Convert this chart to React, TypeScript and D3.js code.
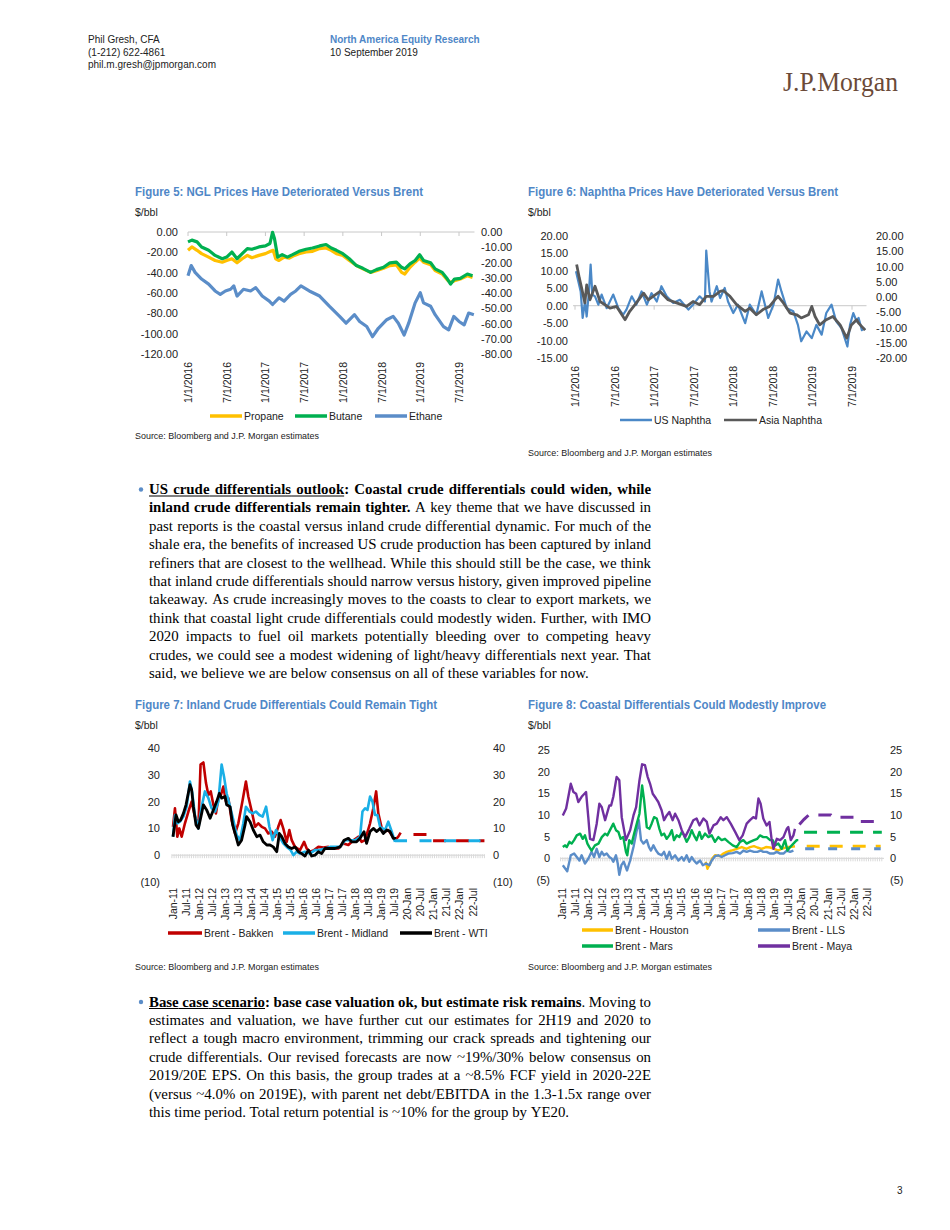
import React, { useMemo } from "react";
import * as d3 from "d3";

type P = [number, number];

// ---------------- Figure 5: NGL prices vs Brent ($/bbl) — x = months since 1 Jan 2016 ----------------
const propane: P[] = [[0,-18],[0.6,-14.7],[1.4,-18],[2.1,-21.3],[3.2,-24.7],[4.2,-28],[5.3,-29.7],[6,-28],[6.8,-26.3],[7.6,-30.3],[8.4,-26.3],[9.2,-23],[9.9,-25.3],[11,-23],[12,-21.3],[12.8,-19],[13.2,-18],[13.6,-26.3],[14.1,-28],[14.9,-24.7],[15.7,-25.7],[16.5,-23],[17.2,-21.3],[18.3,-19.7],[19.3,-19],[20.4,-16.3],[21.4,-15.7],[22.2,-18],[23,-21.3],[24,-23],[25,-28],[26.1,-33],[27.1,-36.3],[28.3,-39.7],[29.2,-38],[30.3,-35.7],[31.3,-33],[32.3,-32.3],[33.1,-39.7],[33.6,-41.3],[34.4,-34.7],[35.2,-29.7],[35.9,-25.7],[36.5,-29.7],[37.6,-32.3],[38.3,-38],[39.4,-41.3],[40.2,-47.3],[40.7,-49.7],[41.3,-48],[42.2,-46.3],[43.3,-43],[44.1,-44.7]];
const butane: P[] = [[0,-9.7],[0.6,-8],[1.4,-9.7],[2.1,-14.7],[3.2,-18],[4.2,-23],[5.3,-26.3],[6,-24.7],[6.8,-19.7],[7.6,-26.3],[8.4,-21.3],[9.2,-16.3],[9.9,-17],[11,-14.7],[12,-13.7],[12.7,-11.3],[13.1,-0.3],[13.4,-6.3],[13.9,-24.7],[14.6,-22.3],[15.4,-24.7],[16.2,-22.3],[17.2,-19],[18.3,-17],[19.3,-15.7],[20.4,-13.7],[21.4,-12.3],[22.2,-15.7],[23,-18],[24,-21.3],[25,-26.3],[26.1,-33],[27.1,-35.7],[28.3,-39.7],[29.2,-37],[30.3,-34.7],[31.3,-30.3],[32.3,-29.7],[33.1,-34.7],[33.6,-36.3],[34.4,-31.3],[35.2,-28],[35.9,-22.3],[36.5,-28],[37.6,-30.3],[38.3,-36.3],[39.4,-39.7],[40.2,-46.3],[40.7,-51.3],[41.3,-46.3],[42.2,-45.7],[43.3,-41.3],[44.1,-43]];
const ethane: P[] = [[0,-43],[0.5,-33],[1.1,-39.7],[2.1,-46.3],[3.2,-51.3],[4.2,-58],[5,-61.3],[5.8,-58],[6.6,-56.3],[7.1,-53],[7.6,-63],[8.6,-56.3],[9.7,-58],[10.5,-54.7],[11.5,-63],[12.6,-68],[13.1,-71.3],[14.1,-64.7],[14.9,-68],[15.9,-61.3],[16.7,-58],[17.5,-53],[18.8,-58],[20.4,-63],[21.9,-73],[23.5,-83],[24.5,-89.7],[25.8,-81.3],[26.6,-88],[27.7,-93],[28.6,-103],[29.5,-94.7],[30.8,-86.3],[31.8,-83],[32.6,-89.7],[33.5,-101.3],[34.2,-89.7],[35.2,-69.7],[36,-59.7],[36.5,-69.7],[37.6,-73],[38.3,-81.3],[39.6,-93],[40.4,-96.3],[41.2,-83],[42,-88],[42.8,-91.3],[43.5,-79.7],[44.3,-81.3]];

// ---------------- Figure 6: Naphtha vs Brent ($/bbl) — x = months since 1 Jan 2016 ----------------
const usNaphtha: P[] = [[0.15,9.9],[0.5,7],[0.86,4.1],[1.16,-3.5],[1.52,1.2],[1.77,-3.1],[2.12,4.1],[2.37,11.8],[2.63,3.2],[3.03,2.7],[3.54,0.3],[4.04,3.2],[4.8,-0.7],[5.8,3.2],[6.57,-0.7],[7.3,-2.6],[7.8,-1.1],[8.6,2.7],[9.3,0.3],[10.1,4.1],[10.9,0.3],[11.6,3.6],[12.4,1.2],[13.1,5.6],[13.9,2.7],[14.9,0.8],[15.9,1.7],[17.2,-1.1],[17.9,0.3],[18.9,2.7],[19.7,1.2],[19.9,15.8],[20.4,4.1],[20.7,1.2],[21.5,5.6],[22,2.2],[22.7,5.1],[23.2,1.2],[24,-2.1],[24.7,0.3],[25.8,-5],[26.5,0.3],[27.5,-2.6],[28.3,4.1],[29.3,-3.5],[30.1,0.3],[30.8,7.5],[31.3,4.1],[32.1,-0.7],[33.1,-1.6],[33.8,-5.5],[34.3,-10.2],[35.1,-7.4],[35.9,-9.3],[36.6,-5.5],[37.4,-8.3],[38.1,-2.1],[38.9,0.3],[39.6,-4.5],[40.4,-6.4],[41.3,-11.7],[41.7,-5.5],[42.2,-2.1],[42.7,-4.5],[43,-3.5],[43.5,-7],[44,-6.5]];
const asiaNaphtha: P[] = [[0.25,11.8],[0.66,7.9],[1,5.1],[1.5,0.8],[1.77,6],[2.27,1.7],[3.03,5.6],[3.8,1.2],[5.3,-0.7],[6.3,-0.2],[7.6,-4],[8.3,-1.6],[9.1,0.3],[10.4,3.6],[11.1,1.7],[12.9,4.1],[14.1,1.7],[15.4,0.8],[16.9,-0.2],[17.9,1.2],[18.9,0.3],[19.9,2.7],[21,2.7],[22,4.1],[22.5,4.3],[23.5,2.7],[24.5,0.3],[25.8,-1.6],[26.5,-0.7],[27.5,-2.6],[28.5,-1.1],[29.5,-0.2],[30.3,1.7],[30.8,2.7],[31.6,0.8],[32.6,-2.1],[33.6,-2.6],[34.3,-3.5],[35.4,-2.6],[35.9,-0.2],[36.4,-3.1],[37.1,-5.5],[38.1,-4],[39.1,-3.1],[40.2,-5.5],[41.2,-9.3],[41.9,-5.5],[42.7,-4],[43,-5],[43.5,-6],[44,-7]];

const dateTicks56 = ["1/1/2016","7/1/2016","1/1/2017","7/1/2017","1/1/2018","7/1/2018","1/1/2019","7/1/2019"];
const fig5Left = [0,-20,-40,-60,-80,-100,-120];
const fig5Right = [0,-10,-20,-30,-40,-50,-60,-70,-80];
const fig6Left = [20,15,10,5,0,-5,-10,-15];
const fig6Right = [20,15,10,5,0,-5,-10,-15,-20];

// ---------------- Figure 7: inland differentials — x = months since Jan-11 ----------------
const bakken: P[] = [[0,10.6],[0.9,17.5],[2,6.9],[2.9,10],[4,6.9],[5.5,11.9],[7.1,16.3],[8.6,20],[10.1,14.4],[11.7,10.6],[12.7,33.8],[14,34.6],[15.2,26.9],[16.3,22.5],[17.4,23.8],[18.6,18.8],[19.8,15.6],[20.9,21.3],[22.1,22.5],[23.2,25.6],[24.4,20],[25.5,21.3],[27,13.1],[28.6,8.1],[30.1,11.9],[32.1,20.6],[33.6,27.5],[34.7,21.9],[36.3,16.3],[37.8,10.6],[39.3,11.9],[40.9,10.6],[42.4,10],[43.9,8.1],[45.5,8.8],[47,6.9],[48.5,10.6],[49.6,13.1],[50.8,10],[52.4,5],[53.6,9.4],[54.7,5.6],[56.2,3.1],[58.5,1.9],[60.4,5],[61.6,2.5],[63.1,1.3],[65,1.9],[67,3.1],[69.3,2.9],[71.6,3.1],[73.9,2.5],[76.2,2.5],[78.5,4.4],[80.8,3.8],[83.1,5.6],[85.4,6.9],[86.9,5],[88.5,5.6],[90.8,11.9],[92.3,17.5],[93.6,23.8],[94.6,15.6],[96.2,10],[97.7,8.8],[99.2,9.4],[100.8,7.5],[102.3,5.6],[103.8,6.9],[104.9,8.4]];
const midland: P[] = [[0,6.9],[0.9,15],[2,11.9],[3.2,12.5],[4.8,14.4],[6.3,18.1],[7.8,27.5],[8.9,23.1],[10.1,15],[11.7,10],[13.2,18.1],[14.7,23.8],[16.3,21.3],[17.8,17.5],[19.4,16.3],[20.9,20],[22.4,33.8],[23.5,29.4],[24.7,23.1],[26.3,18.1],[27.8,13.1],[29.3,7.5],[30.9,5.6],[32.4,11.9],[33.6,18.1],[35.2,16.3],[36.7,15.6],[38.2,16.3],[39.8,15],[41.3,14.4],[42.9,18.1],[44.4,10.6],[45.9,5.6],[47.5,9.4],[49,6.9],[50.8,4.4],[52.4,3.1],[54.2,1.9],[55.5,0],[57,1.3],[58.5,0.6],[60.8,1.3],[63.1,0.6],[65.4,1.9],[67.7,1.9],[70,2.5],[72.4,3.1],[74.7,3.1],[77,3.1],[79.3,5.6],[81.6,5.6],[83.9,5.6],[86.2,6.9],[87.3,16.3],[88.5,17.5],[89.6,16.9],[90.8,21.9],[91.9,20],[93.1,15],[94.2,15],[95.4,10.6],[96.6,10],[97.7,9.4],[99.2,12.5],[100.8,8.8],[102.3,5]];
const wti: P[] = [[0,6.9],[1.4,15],[2.5,12.5],[3.5,13.1],[4.8,15.6],[6,18.8],[7.8,26.3],[8.6,24.4],[9.4,18.1],[10.6,11.3],[11.7,10],[13.2,15.6],[14,18.8],[15.5,16.9],[17.1,13.8],[18.6,16.9],[20.1,20],[21.4,23.1],[22.4,21.3],[24,21.9],[24.7,18.8],[26.3,18.1],[27.5,11.3],[28.6,8.1],[30.1,3.8],[31.6,5.6],[33.2,11.3],[33.9,14.4],[35.5,12.5],[37,9.4],[38.6,6.9],[40.1,7.5],[41.6,5],[43.2,3.8],[44.7,3.8],[46.2,3.1],[47.8,1.3],[49,8.1],[50.1,6.9],[51.6,4.4],[53.2,3.1],[54.7,2.5],[56.2,3.1],[57.8,1.3],[59.3,0.6],[60.8,-0.3],[62.4,1.9],[63.9,-0.3],[65.4,0],[67,1.3],[68.5,0.6],[70,2.5],[72.4,2.5],[74.6,2.5],[77,3.1],[78.8,5.6],[80.8,6.3],[82.3,5],[84.6,5],[86.2,6.3],[88,8.8],[89.2,4.4],[90.8,8.8],[92.3,10],[93.9,8.8],[95.4,10],[96.9,8.1],[98.5,9.4],[100,8.8],[101.5,6.3],[102.8,6.3]];
const bakkenFcst: P[] = [[110.8,7.7],[117.6,7.7],[119.4,5.4],[143.5,5.4]];
const midlandFcst: P[] = [[102.3,5.4],[143.5,5.4]];

// ---------------- Figure 8: coastal differentials — x = months since Jan-11 ----------------
const houston: P[] = [[65,-0.8],[65.8,-2.4],[67,-1.2],[68,0],[69.2,0.7],[71.5,0.5],[73,1.1],[74.5,1.5],[76.7,1.8],[79,2.2],[81.3,2.6],[83.5,2.2],[85,2.6],[86.8,2.8],[88.3,2.5],[90.3,2.2],[92.2,2.6],[94.1,2.5],[95.9,2.2],[97.8,1.8],[99.3,2.2],[101.6,2.6],[103.1,2.6],[105.3,2.8]];
const lls: P[] = [[0.5,-1.6],[2.5,-3],[4.1,0.7],[5.6,1.1],[6.8,0.3],[8,-0.5],[9,0.7],[10.5,-1.2],[12,-0.1],[13.5,1.5],[14.6,0.3],[15.8,2.2],[17,0.3],[18.1,1.5],[19.1,0.7],[20.3,1.1],[21.5,0.3],[22.6,-0.1],[23.3,-0.8],[24.5,0.7],[25.3,-1.2],[26,-3.8],[27,-1.5],[28,-0.8],[29.5,-2.8],[30.9,-0.5],[32.4,2.6],[33.6,5.7],[34.8,8.8],[35.8,4.2],[36.9,3.4],[38.4,4.2],[39.4,2.6],[40.3,1.8],[41.4,3],[42.6,1.8],[43.6,1.1],[45.1,0.7],[46.2,1.5],[47.4,-0.1],[48.6,1.5],[49.7,-0.1],[51.2,0.7],[52.7,-0.5],[54.2,0.3],[55.2,-0.5],[56.4,0.7],[57.6,-0.8],[58.7,0.3],[59.7,-0.5],[60.9,-1.2],[62.5,-0.5],[63.7,-1.6],[65.2,-1.2],[66.7,-1.6],[67.7,-0.5],[69.2,0.5],[70.7,0.7],[72.2,0.3],[73.7,0.7],[75.2,1.1],[77.2,1.2],[79,1.5],[80.5,1.1],[82,1.8],[83.5,1.5],[85,1.8],[86.8,1.5],[88.3,1.5],[89.8,1.8],[91,1.5],[92.5,1.5],[94.1,1.1],[95.6,1.1],[97.1,1.5],[98.6,1.1],[100.1,1.1],[101.6,1.8],[103.1,1.5],[104.6,1.8]];
const mars: P[] = [[0.5,2.6],[1.5,3],[2.3,2.6],[3.5,3.8],[4.5,3.4],[5.6,4.2],[6.8,5.3],[8.3,5.7],[9.5,4.5],[10.5,5.3],[11.6,3.4],[12.5,2.6],[13.5,1.8],[15,3],[16.6,3.4],[18.1,4.9],[19.6,5.7],[20.6,5.3],[21.8,6.5],[23.3,8],[24.5,6.5],[25.6,6.1],[26.6,4.5],[27.8,4.9],[29,1.5],[29.6,0.7],[30.5,4.2],[31.6,3.4],[32.7,5.7],[33.9,8],[35.1,10.3],[36.3,16.8],[37.2,13.4],[38.4,7.2],[39.6,6.8],[40.6,8],[41.7,9.5],[42.9,9.2],[44.1,6.8],[45.1,5.3],[46.2,5.7],[47.4,4.5],[48.6,5.3],[49.7,6.5],[50.7,4.2],[51.9,5.3],[53.1,4.9],[54.2,6.1],[55.2,5.3],[56.4,3.8],[57.6,4.9],[58.7,6.5],[59.7,5.3],[60.9,4.2],[62.2,6.1],[63.2,4.5],[64.7,5.7],[66.2,4.9],[67.7,5.3],[69.2,3.8],[70.7,4.9],[72.2,4.2],[73.7,4.5],[75.2,3.8],[77.2,3],[79,2.6],[80.5,3.8],[82,4.2],[83.5,3.4],[85,3.8],[86.8,4.2],[88.3,4.5],[89.5,5.3],[91,4.9],[92.5,4.9],[94.1,4.2],[95.3,4.2],[96.3,3],[97.8,3.4],[99.3,2.2],[100.8,4.2],[101.9,1.8],[103.1,2.6],[104.6,3.4],[106.1,4.2],[106.8,4.2]];
const maya: P[] = [[0.5,9.9],[2,11.5],[3,14.2],[4.1,17.2],[5.3,15.3],[6.5,14.9],[7.5,13],[9,14.2],[11,15.3],[12,9.5],[12.8,4.5],[14.3,4.2],[15.8,8],[17,12.6],[18.1,11.8],[19.6,8.8],[21.5,12.2],[22.3,12.2],[23.3,14.2],[24.8,18.8],[26,18],[27.1,9.5],[29,4.2],[30.9,6.5],[32.4,9.9],[33.6,11.8],[35.1,18],[36.3,21.7],[37.6,21.5],[38.8,18.8],[39.9,17.2],[41.1,14.9],[42.6,13.8],[43.6,13],[45.1,11.1],[46.2,8.8],[47.4,9.9],[48.6,10.7],[50.1,8.8],[51.2,10.3],[52.7,8.8],[54.2,6.5],[55.7,4.9],[57.6,6.8],[59.4,8.8],[60.9,9.2],[62.2,7.6],[64,9.2],[65.5,8.4],[66.7,5.7],[68.5,7.6],[70,8],[71.8,9.5],[73,8.8],[74.5,9.5],[76.3,8],[78.3,6.1],[80.2,4.2],[81.7,5.3],[83.5,8],[85,8.8],[86.5,9.5],[87.7,9.2],[88.8,13.8],[89.8,12.6],[91,9.2],[92.5,7.6],[93.8,8.4],[94.8,4.2],[95.6,2.2],[97.1,4.5],[98.6,4.2],[100.1,4.9],[101.6,6.8],[102.3,7.2],[103.4,4.2],[104.6,5.3],[105.3,6.8]];
const houstonFcst: P[] = [[110.6,2.8],[144,2.8]];
const llsFcst: P[] = [[109.9,2.2],[144,2.2]];
const marsFcst: P[] = [[109.4,6.0],[144.5,6.0]];
const mayaFcst: P[] = [[107.3,7.8],[109.4,9],[111.5,10],[121.5,10],[122.5,9.5],[132,9.5],[133,8.5],[143.5,8.5]];

const monthTicks78 = ["Jan-11","Jul-11","Jan-12","Jul-12","Jan-13","Jul-13","Jan-14","Jul-14","Jan-15","Jul-15","Jan-16","Jul-16","Jan-17","Jul-17","Jan-18","Jul-18","Jan-19","Jul-19","20-Jan","20-Jul","21-Jan","21-Jul","22-Jan","22-Jul"];
const fig7Ticks = [40,30,20,10,0,-10];
const fig8Ticks = [25,20,15,10,5,0,-5];

// ---------------- Body text ----------------
type Seg = { t: string; b?: boolean; u?: boolean };
const para1: Seg[][] = [
  [{ t: "US crude differentials outlook", b: true, u: true }, { t: ": Coastal crude differentials could widen, while", b: true }],
  [{ t: "inland crude differentials remain tighter.", b: true }, { t: " A key theme that we have discussed in" }],
  [{ t: "past reports is the coastal versus inland crude differential dynamic. For much of the" }],
  [{ t: "shale era, the benefits of increased US crude production has been captured by inland" }],
  [{ t: "refiners that are closest to the wellhead. While this should still be the case, we think" }],
  [{ t: "that inland crude differentials should narrow versus history, given improved pipeline" }],
  [{ t: "takeaway. As crude increasingly moves to the coasts to clear to export markets, we" }],
  [{ t: "think that coastal light crude differentials could modestly widen. Further, with IMO" }],
  [{ t: "2020 impacts to fuel oil markets potentially bleeding over to competing heavy" }],
  [{ t: "crudes, we could see a modest widening of light/heavy differentials next year. That" }],
  [{ t: "said, we believe we are below consensus on all of these variables for now." }],
];
const para2: Seg[][] = [
  [{ t: "Base case scenario", b: true, u: true }, { t: ": base case valuation ok, but estimate risk remains", b: true }, { t: ". Moving to" }],
  [{ t: "estimates and valuation, we have further cut our estimates for 2H19 and 2020 to" }],
  [{ t: "reflect a tough macro environment, trimming our crack spreads and tightening our" }],
  [{ t: "crude differentials. Our revised forecasts are now ~19%/30% below consensus on" }],
  [{ t: "2019/20E EPS. On this basis, the group trades at a ~8.5% FCF yield in 2020-22E" }],
  [{ t: "(versus ~4.0% on 2019E), with parent net debt/EBITDA in the 1.3-1.5x range over" }],
  [{ t: "this time period.  Total return potential is ~10% for the group by YE20." }],
];

const SANS = "'Liberation Sans', Arial, Helvetica, sans-serif";
const SERIF = "'Liberation Serif', 'Times New Roman', serif";
const TITLE = "#4F87C7";
const TXT = "#222";

const c = {
  propane: "#FFC000", butane: "#00B050", ethane: "#5B8DC8",
  us: "#4A88C7", asia: "#595959",
  bakken: "#C00000", midland: "#1AAFE6", wti: "#000000",
  houston: "#FFC000", lls: "#5B8DC8", mars: "#00B050", maya: "#7030A0",
};

function Title({ x, y, w, children }: any) {
  return (
    <text x={x} y={y} fontFamily={SANS} fontWeight="bold" fontSize={12.5} fill={TITLE} textLength={w} lengthAdjust="spacingAndGlyphs">
      {children}
    </text>
  );
}
function Unit({ x, y }: any) {
  return <text x={x} y={y} fontFamily={SANS} fontSize={10.5} fill={TXT}>$/bbl</text>;
}
function Source({ x, y }: any) {
  return (
    <text x={x} y={y} fontFamily={SANS} fontSize={9} fill={TXT} textLength={184} lengthAdjust="spacingAndGlyphs">
      Source: Bloomberg and J.P. Morgan estimates
    </text>
  );
}
function Legend({ x, y, w, color, label, sw = 3.5 }: any) {
  return (
    <g>
      <line x1={x} x2={x + w} y1={y} y2={y} stroke={color} strokeWidth={sw} />
      <text x={x + w + 2} y={y + 3.8} fontFamily={SANS} fontSize={10.5} fill={TXT}>{label}</text>
    </g>
  );
}
function RotLabel({ x, y, t }: any) {
  return (
    <text transform={`translate(${x + 4},${y}) rotate(-90)`} textAnchor="end" fontFamily={SANS} fontSize={10.5} fill={TXT}>
      {t}
    </text>
  );
}
const paren = (v: number) => (v < 0 ? `(${Math.abs(v)})` : `${v}`);

function Fig5() {
  const x = d3.scaleLinear().domain([0, 42]).range([188, 459]);
  const y = d3.scaleLinear().domain([-120, 0]).range([354, 232]);
  const yR = d3.scaleLinear().domain([-80, 0]).range([354, 232]);
  const line = d3.line<P>().x(d => x(d[0])).y(d => y(d[1]));
  return (
    <g>
      <Title x={135} y={196} w={288}>Figure 5: NGL Prices Have Deteriorated Versus Brent</Title>
      <Unit x={135} y={216} />
      <line x1={x(0)} x2={x(44.4)} y1={y(0)} y2={y(0)} stroke="#C8C8C8" />
      {dateTicks56.map((t, k) => <line key={t} x1={x(k * 6)} x2={x(k * 6)} y1={y(0)} y2={y(0) + 4} stroke="#C8C8C8" />)}
      {fig5Left.map(v => <text key={v} x={178} y={y(v) + 4} textAnchor="end" fontFamily={SANS} fontSize={11} fill={TXT}>{v.toFixed(2)}</text>)}
      {fig5Right.map(v => <text key={v} x={481} y={yR(v) + 4} fontFamily={SANS} fontSize={11} fill={TXT}>{v.toFixed(2)}</text>)}
      {dateTicks56.map((t, k) => <RotLabel key={t} x={x(k * 6)} y={362} t={t} />)}
      <path d={line(propane)!} fill="none" stroke={c.propane} strokeWidth={3.2} strokeLinejoin="round" />
      <path d={line(butane)!} fill="none" stroke={c.butane} strokeWidth={3.2} strokeLinejoin="round" />
      <path d={line(ethane)!} fill="none" stroke={c.ethane} strokeWidth={3.2} strokeLinejoin="round" />
      <Legend x={210} y={416} w={32} color={c.propane} label="Propane" />
      <Legend x={295} y={416} w={32} color={c.butane} label="Butane" />
      <Legend x={375} y={416} w={32} color={c.ethane} label="Ethane" />
      <Source x={135} y={439} />
    </g>
  );
}

function Fig6() {
  const x = d3.scaleLinear().domain([0, 42]).range([575, 852]);
  const y = d3.scaleLinear().domain([-15, 20]).range([358, 236]);
  const yR = d3.scaleLinear().domain([-20, 20]).range([358, 236]);
  const line = d3.line<P>().x(d => x(d[0])).y(d => y(d[1]));
  return (
    <g>
      <Title x={528} y={196} w={310}>Figure 6: Naphtha Prices Have Deteriorated Versus Brent</Title>
      <Unit x={528} y={216} />
      <line x1={x(-0.3)} x2={x(44.2)} y1={y(0)} y2={y(0)} stroke="#C8C8C8" />
      {dateTicks56.map((t, k) => <line key={t} x1={x(k * 6)} x2={x(k * 6)} y1={y(0)} y2={y(0) + 4} stroke="#C8C8C8" />)}
      {fig6Left.map(v => <text key={v} x={568} y={y(v) + 4} textAnchor="end" fontFamily={SANS} fontSize={11} fill={TXT}>{v.toFixed(2)}</text>)}
      {fig6Right.map(v => <text key={v} x={876} y={yR(v) + 4} fontFamily={SANS} fontSize={11} fill={TXT}>{v.toFixed(2)}</text>)}
      {dateTicks56.map((t, k) => <RotLabel key={t} x={x(k * 6)} y={366} t={t} />)}
      <path d={line(usNaphtha)!} fill="none" stroke={c.us} strokeWidth={2.2} strokeLinejoin="round" />
      <path d={line(asiaNaphtha)!} fill="none" stroke={c.asia} strokeWidth={2.8} strokeLinejoin="round" />
      <Legend x={620} y={420} w={32} color={c.us} label="US Naphtha" sw={2.5} />
      <Legend x={724} y={420} w={33} color={c.asia} label="Asia Naphtha" sw={2.5} />
      <Source x={528} y={456} />
    </g>
  );
}

function ZeroBand({ x0, x1, y, step }: any) {
  const n = Math.floor((x1 - x0) / step);
  return (
    <g>
      <line x1={x0} x2={x1} y1={y} y2={y} stroke="#D4D4D4" strokeWidth={1} />
      {d3.range(n + 1).map(k => (
        <line key={k} x1={x0 + k * step} x2={x0 + k * step} y1={y - 1} y2={y + 3} stroke="#D9D9D9" strokeWidth={1} />
      ))}
    </g>
  );
}

function Fig7() {
  const x = d3.scaleLinear().domain([0, 138]).range([173, 472.5]);
  const y = d3.scaleLinear().domain([-10, 40]).range([882, 748]);
  const line = d3.line<P>().x(d => x(d[0])).y(d => y(d[1]));
  const step = x(1) - x(0);
  return (
    <g>
      <Title x={135} y={709} w={302}>Figure 7: Inland Crude Differentials Could Remain Tight</Title>
      <Unit x={135} y={729} />
      <ZeroBand x0={x(-0.5)} x1={x(143.5)} y={y(0)} step={step} />
      {fig7Ticks.map(v => <text key={v} x={160} y={y(v) + 4} textAnchor="end" fontFamily={SANS} fontSize={11} fill={TXT}>{paren(v)}</text>)}
      {fig7Ticks.map(v => <text key={v} x={493} y={y(v) + 4} fontFamily={SANS} fontSize={11} fill={TXT}>{paren(v)}</text>)}
      {monthTicks78.map((t, k) => <RotLabel key={t} x={x(k * 6)} y={888} t={t} />)}
      <path d={line(bakken)!} fill="none" stroke={c.bakken} strokeWidth={2.6} strokeLinejoin="round" />
      <path d={line(midland)!} fill="none" stroke={c.midland} strokeWidth={2.6} strokeLinejoin="round" />
      <path d={line(wti)!} fill="none" stroke={c.wti} strokeWidth={2.8} strokeLinejoin="round" />
      <path d={line(bakkenFcst)!} fill="none" stroke={c.bakken} strokeWidth={3} strokeDasharray="13,10" />
      <path d={line(midlandFcst)!} fill="none" stroke={c.midland} strokeWidth={3} strokeDasharray="12,12.5" />
      <Legend x={168} y={933} w={34} color={c.bakken} label="Brent - Bakken" />
      <Legend x={283} y={933} w={32} color={c.midland} label="Brent - Midland" />
      <Legend x={400} y={933} w={32} color={c.wti} label="Brent - WTI" />
      <Source x={135} y={970} />
    </g>
  );
}

function Fig8() {
  const x = d3.scaleLinear().domain([0, 138]).range([561.7, 867.4]);
  const y = d3.scaleLinear().domain([-5, 25]).range([880, 750]);
  const line = d3.line<P>().x(d => x(d[0])).y(d => y(d[1]));
  const step = x(1) - x(0);
  return (
    <g>
      <Title x={528} y={709} w={298}>Figure 8: Coastal Differentials Could Modestly Improve</Title>
      <Unit x={528} y={729} />
      <ZeroBand x0={x(-0.5)} x1={x(145.5)} y={y(0)} step={step} />
      {fig8Ticks.map(v => <text key={v} x={550} y={y(v) + 4} textAnchor="end" fontFamily={SANS} fontSize={11} fill={TXT}>{paren(v)}</text>)}
      {fig8Ticks.map(v => <text key={v} x={890} y={y(v) + 4} fontFamily={SANS} fontSize={11} fill={TXT}>{paren(v)}</text>)}
      {monthTicks78.map((t, k) => <RotLabel key={t} x={x(k * 6)} y={888} t={t} />)}
      <path d={line(houston)!} fill="none" stroke={c.houston} strokeWidth={2.4} strokeLinejoin="round" />
      <path d={line(lls)!} fill="none" stroke={c.lls} strokeWidth={2.4} strokeLinejoin="round" />
      <path d={line(mars)!} fill="none" stroke={c.mars} strokeWidth={2.4} strokeLinejoin="round" />
      <path d={line(maya)!} fill="none" stroke={c.maya} strokeWidth={2.4} strokeLinejoin="round" />
      <path d={line(houstonFcst)!} fill="none" stroke={c.houston} strokeWidth={3} strokeDasharray="13,10" />
      <path d={line(llsFcst)!} fill="none" stroke={c.lls} strokeWidth={3} strokeDasharray="9,14" />
      <path d={line(marsFcst)!} fill="none" stroke={c.mars} strokeWidth={3} strokeDasharray="13,10" />
      <path d={line(mayaFcst)!} fill="none" stroke={c.maya} strokeWidth={3} strokeDasharray="13,10" />
      <Legend x={582} y={930} w={31} color={c.houston} label="Brent - Houston" />
      <Legend x={758} y={930} w={32} color={c.lls} label="Brent - LLS" />
      <Legend x={582} y={946} w={31} color={c.mars} label="Brent - Mars" />
      <Legend x={758} y={946} w={32} color={c.maya} label="Brent - Maya" />
      <Source x={528} y={970} />
    </g>
  );
}

function Paragraph({ lines, x0, width, y0, lh, size }: any) {
  const items = useMemo(() => {
    const ctx = document.createElement("canvas").getContext("2d")!;
    const meas = (t: string, b: boolean) => {
      ctx.font = `${b ? "bold " : ""}${size}px "Liberation Serif"`;
      return ctx.measureText(t).width;
    };
    const out: any[] = [];
    lines.forEach((segs: Seg[], li: number) => {
      const words: any[] = [];
      let cur: any = null;
      for (const s of segs) {
        for (const ch of s.t) {
          if (ch === " ") { if (cur) { words.push(cur); cur = null; } continue; }
          if (!cur) cur = { pieces: [] };
          const last = cur.pieces[cur.pieces.length - 1];
          if (last && last.b === !!s.b && last.u === !!s.u) last.t += ch;
          else cur.pieces.push({ t: ch, b: !!s.b, u: !!s.u });
        }
      }
      if (cur) words.push(cur);
      words.forEach(w => { w.w = 0; w.pieces.forEach((p: any) => { p.w = meas(p.t, p.b); w.w += p.w; }); });
      const total = d3.sum(words, (w: any) => w.w);
      const justify = li < lines.length - 1;
      const gap = justify ? (width - total) / (words.length - 1) : meas(" ", false);
      let xx = x0;
      const yy = y0 + li * lh;
      let prevU = false;
      words.forEach((w: any, wi: number) => {
        w.pieces.forEach((p: any, pi: number) => {
          out.push({ kind: "t", x: xx, y: yy, t: p.t, b: p.b });
          if (p.u) out.push({ kind: "u", x1: pi === 0 && wi > 0 && prevU ? xx - gap : xx, x2: xx + p.w, y: yy + 2 });
          xx += p.w;
        });
        prevU = w.pieces[w.pieces.length - 1].u;
        xx += gap;
      });
    });
    return out;
  }, [lines, x0, width, y0, lh, size]);
  return (
    <g>
      <circle cx={141} cy={y0 - 4.5} r={2.2} fill="#5B8DC8" />
      {items.map((it: any, k: number) =>
        it.kind === "t" ? (
          <text key={k} x={it.x} y={it.y} fontFamily={SERIF} fontSize={size} fontWeight={it.b ? "bold" : "normal"} fill="#000">{it.t}</text>
        ) : (
          <line key={k} x1={it.x1} x2={it.x2} y1={it.y} y2={it.y} stroke="#000" strokeWidth={1} />
        )
      )}
    </g>
  );
}

export default function App() {
  const size = useMemo(() => {
    const ctx = document.createElement("canvas").getContext("2d")!;
    ctx.font = `100px "Liberation Serif"`;
    const w = ctx.measureText("said, we believe we are below consensus on all of these variables for now.").width;
    return Math.min(15, Math.max(12, (440 * 100) / w));
  }, []);
  return (
    <svg width={950} height={1230} style={{ position: "absolute", left: 0, top: 0, background: "#fff" }}>
      <rect x={0} y={0} width={950} height={1230} fill="#fff" />
      <g fontFamily={SANS} fontSize={10} fill={TXT}>
        <text x={88} y={43}>Phil Gresh, CFA</text>
        <text x={88} y={55.5}>(1-212) 622-4861</text>
        <text x={88} y={68}>phil.m.gresh@jpmorgan.com</text>
        <text x={330} y={43} fontWeight="bold" fill="#4F87C7">North America Equity Research</text>
        <text x={330} y={55.5}>10 September 2019</text>
      </g>
      <text x={783} y={91} fontFamily={SERIF} fontSize={28} fill="#6B4A38" textLength={115} lengthAdjust="spacingAndGlyphs">J.P.Morgan</text>
      <Fig5 />
      <Fig6 />
      <Paragraph lines={para1} x0={149} width={502} y0={494} lh={18.4} size={size} />
      <Fig7 />
      <Fig8 />
      <Paragraph lines={para2} x0={149} width={502} y0={1006.5} lh={18.4} size={size} />
      <text x={897} y={1194} fontFamily={SANS} fontSize={10} fill={TXT}>3</text>
    </svg>
  );
}
